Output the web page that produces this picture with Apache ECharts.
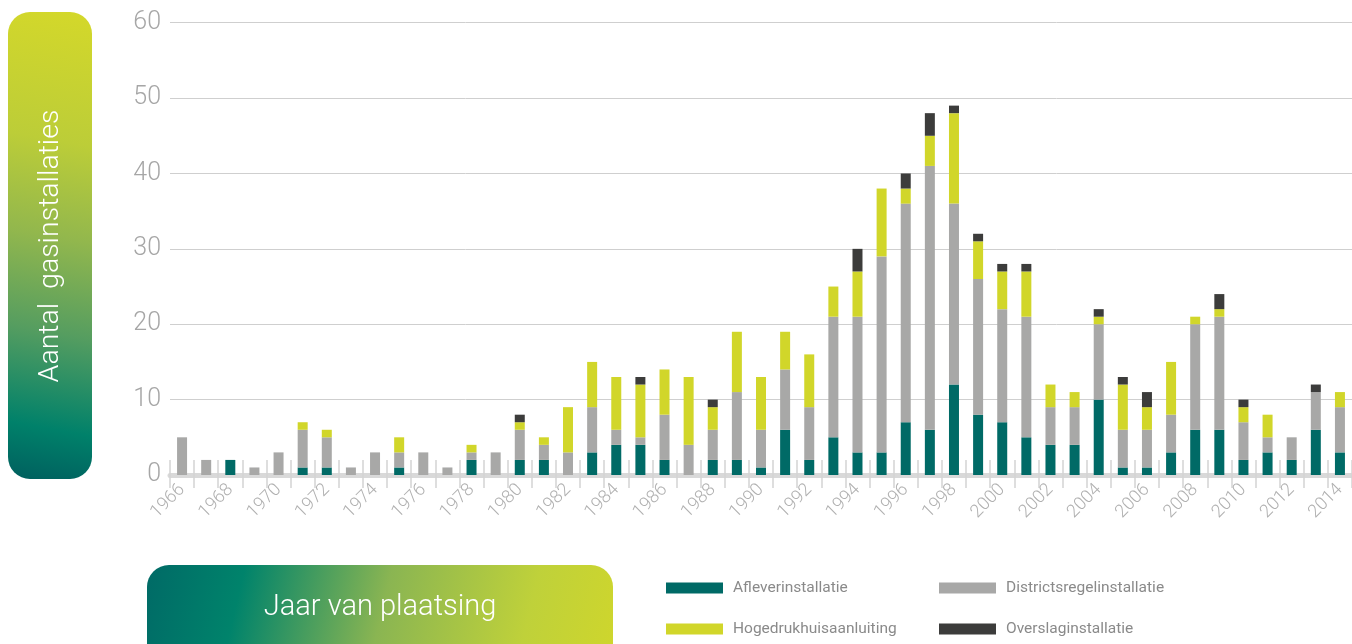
<!DOCTYPE html>
<html>
<head>
<meta charset="utf-8">
<title>Gasinstallaties per jaar van plaatsing</title>
<script src="https://cdn.jsdelivr.net/npm/echarts@6/dist/echarts.min.js"></script>
<style>
  html, body { margin: 0; padding: 0; background: #ffffff; }
  #chart { width: 1352px; height: 644px; }
</style>
</head>
<body>
<div id="chart"></div>
<script>
// Years of installation (x categories)
const years = [];
for (let y = 1966; y <= 2014; y++) years.push(String(y));

// Number of installations per type and year (1966 .. 2014)
const aflever = [0,0,2,0,0,1,1,0,0,1, 0,0,2,0,2,2,0,3,4,4, 2,0,2,2,1,6,2,5,3,3, 7,6,12,8,7,5,4,4,10,1, 1,3,6,6,2,3,2,6,3];
const districts = [5,2,0,1,3,5,4,1,3,2, 3,1,1,3,4,2,3,6,2,1, 6,4,4,9,5,8,7,16,18,26, 29,35,24,18,15,16,5,5,10,5, 5,5,14,15,5,2,3,5,6];
const hogedruk = [0,0,0,0,0,1,1,0,0,2, 0,0,1,0,1,1,6,6,7,7, 6,9,3,8,7,5,7,4,6,9, 2,4,12,5,5,6,3,2,1,6, 3,7,1,1,2,3,0,0,2];
const overslag = [0,0,0,0,0,0,0,0,0,0, 0,0,0,0,1,0,0,0,0,1, 0,0,1,0,0,0,0,0,3,0, 2,3,1,1,1,1,0,0,1,1, 2,0,0,2,1,0,0,1,0];

const yTicks = { min: 0, max: 60, interval: 10 };

const seriesDefs = [
  { name: 'Afleverinstallatie', data: aflever, color: '#006a66' },
  { name: 'Districtsregelinstallatie', data: districts, color: '#a8a8a7' },
  { name: 'Hogedrukhuisaanluiting', data: hogedruk, color: '#d1d62a' },
  { name: 'Overslaginstallatie', data: overslag, color: '#3c3c3b' }
];

const FONT = 'Roboto, "Noto Sans", sans-serif';

function legendAt(name, left, top) {
  return {
    data: [name],
    left: left,
    top: top,
    icon: 'rect',
    itemWidth: 57,
    itemHeight: 11,
    textStyle: {
      fontFamily: FONT,
      fontSize: 15.5,
      color: '#8a8a8a',
      lineHeight: 18,
      padding: [0, 0, 0, 5]
    }
  };
}

const chart = echarts.init(document.getElementById('chart'), null, { renderer: 'canvas' });

chart.setOption({
  animation: false,
  backgroundColor: '#ffffff',
  grid: { left: 170, right: 0, top: 22.7, bottom: 169, containLabel: false },
  legend: [
    legendAt('Afleverinstallatie', 661, 574),
    legendAt('Districtsregelinstallatie', 934, 574),
    legendAt('Hogedrukhuisaanluiting', 661, 615),
    legendAt('Overslaginstallatie', 934, 615)
  ],
  xAxis: [
    {
      type: 'category',
      data: years,
      position: 'bottom',
      offset: 2,
      axisLine: { show: true, lineStyle: { color: '#d9d9d9', width: 5 } },
      axisTick: { show: true, interval: 0, length: 13, lineStyle: { color: '#d4d4d4', width: 1.5 } },
      axisLabel: {
        interval: 1,
        rotate: 45,
        margin: 10,
        padding: [16, 0, 0, 0],
        fontFamily: FONT,
        fontWeight: 300,
        fontSize: 18,
        color: '#b0b0b0'
      },
      splitLine: { show: false }
    },
    {
      // inner half of the boundary ticks, above the axis band
      type: 'category',
      data: years,
      position: 'bottom',
      offset: 2,
      axisLine: { show: false },
      axisTick: { show: true, inside: true, interval: 0, length: 17, lineStyle: { color: '#d4d4d4', width: 1.5 } },
      axisLabel: { show: false },
      splitLine: { show: false }
    }
  ],
  yAxis: {
    type: 'value',
    min: yTicks.min,
    max: yTicks.max,
    interval: yTicks.interval,
    axisLine: { show: false },
    axisTick: { show: false },
    axisLabel: {
      margin: 9,
      fontFamily: FONT,
      fontWeight: 300,
      fontSize: 25,
      color: '#a6a6a6',
      padding: [0, 0, 8, 0]
    },
    splitLine: { lineStyle: { color: '#cfcfcf', width: 1 } }
  },
  series: seriesDefs.map(s => ({
    name: s.name,
    type: 'bar',
    stack: 'total',
    xAxisIndex: 0,
    barWidth: 10,
    data: s.data,
    itemStyle: { color: s.color },
    emphasis: { disabled: true }
  })),
  graphic: [
    {
      type: 'rect',
      shape: { x: 8, y: 12, width: 84, height: 467, r: 22 },
      style: {
        fill: new echarts.graphic.LinearGradient(0, 1, 1, 0, [
          { offset: 0, color: '#005f5e' },
          { offset: 0.12, color: '#00816a' },
          { offset: 0.32, color: '#559d60' },
          { offset: 0.52, color: '#92b74d' },
          { offset: 0.72, color: '#bccd38' },
          { offset: 1, color: '#d4d82a' }
        ])
      },
      silent: true
    },
    {
      type: 'text',
      x: 51,
      y: 246,
      rotation: Math.PI / 2,
      style: {
        text: 'Aantal  gasinstallaties',
        fill: '#ffffff',
        font: '300 28.5px ' + FONT,
        align: 'center',
        verticalAlign: 'middle'
      },
      silent: true
    },
    {
      type: 'rect',
      shape: { x: 147, y: 565, width: 466, height: 110, r: 22 },
      style: {
        fill: new echarts.graphic.LinearGradient(0, 0, 1, 1, [
          { offset: 0, color: '#006a66' },
          { offset: 0.2, color: '#00836b' },
          { offset: 0.5, color: '#8ab552' },
          { offset: 0.8, color: '#bfd13a' },
          { offset: 1, color: '#cfd62c' }
        ])
      },
      silent: true
    },
    {
      type: 'text',
      x: 380,
      y: 608,
      style: {
        text: 'Jaar van plaatsing',
        fill: '#ffffff',
        font: '300 29px ' + FONT,
        align: 'center',
        verticalAlign: 'middle'
      },
      silent: true
    }
  ]
});
</script>
</body>
</html>
